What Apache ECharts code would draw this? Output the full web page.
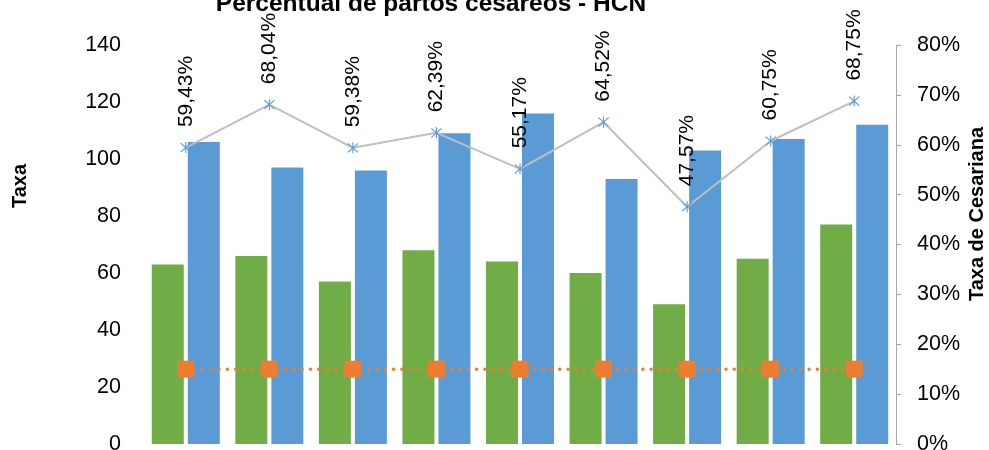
<!DOCTYPE html>
<html>
<head>
<meta charset="utf-8">
<script src="https://cdn.jsdelivr.net/npm/echarts@6/dist/echarts.min.js"></script>
<style>
html,body{margin:0;padding:0;background:#fff;}
#chart{width:989px;height:450px;}
</style>
</head>
<body>
<div id="chart"></div>
<script>
var categories = ['1','2','3','4','5','6','7','8','9'];
var partosCesareos = [63, 66, 57, 68, 64, 60, 49, 65, 77];
var totalPartos = [106, 97, 96, 109, 116, 93, 103, 107, 112];
var taxaCesariana = [59.43, 68.04, 59.38, 62.39, 55.17, 64.52, 47.57, 60.75, 68.75];
var meta = [15, 15, 15, 15, 15, 15, 15, 15, 15];
var leftTicks = [0, 20, 40, 60, 80, 100, 120, 140];
var rightTicks = [0, 10, 20, 30, 40, 50, 60, 70, 80];

var FONT = 'Liberation Sans';
var asterisk = 'path://M9.1,0 L10.9,0 L10.9,20 L9.1,20 Z M1.2,2.5 L2.5,1.2 L18.8,17.5 L17.5,18.8 Z M17.5,1.2 L18.8,2.5 L2.5,18.8 L1.2,17.5 Z';

var chart = echarts.init(document.getElementById('chart'), null, {renderer: 'canvas'});
chart.setOption({
  animation: false,
  backgroundColor: '#fff',
  title: {
    text: 'Percentual de partos cesáreos - HCN',
    left: 426, textAlign: 'center', top: -13,
    textStyle: {fontFamily: FONT, fontSize: 24.5, fontWeight: 'bold', color: '#000'}
  },
  grid: {left: 144, right: 93, top: 45, bottom: 6, containLabel: false, outerBoundsMode: 'none'},
  xAxis: {
    type: 'category', data: categories,
    axisLine: {show: false}, axisTick: {show: false}, axisLabel: {show: false}
  },
  yAxis: [
    {
      type: 'value', min: leftTicks[0], max: leftTicks[leftTicks.length - 1], interval: 20,
      axisLine: {show: false}, axisTick: {show: false}, splitLine: {show: false},
      axisLabel: {fontFamily: FONT, fontSize: 21.5, color: '#000', margin: 23}
    },
    {
      type: 'value', min: rightTicks[0], max: rightTicks[rightTicks.length - 1], interval: 10,
      position: 'right',
      axisLine: {show: true, lineStyle: {color: '#A6A6A6', width: 1}},
      axisTick: {show: true, length: 5, lineStyle: {color: '#A6A6A6'}},
      splitLine: {show: false},
      axisLabel: {fontFamily: FONT, fontSize: 21.5, color: '#000', margin: 21, formatter: '{value}%'}
    }
  ],
  graphic: [
    {type: 'text', x: 20, y: 186, rotation: Math.PI / 2,
     style: {text: 'Taxa', fontFamily: FONT, fontSize: 20, fontWeight: 'bold', fill: '#000', align: 'center', verticalAlign: 'middle'}},
    {type: 'text', x: 977, y: 214, rotation: Math.PI / 2,
     style: {text: 'Taxa de Cesariana', fontFamily: FONT, fontSize: 20, fontWeight: 'bold', fill: '#000', align: 'center', verticalAlign: 'middle'}}
  ],
  series: [
    {
      type: 'bar', data: partosCesareos, barWidth: 32, barGap: '12.5%',
      itemStyle: {color: '#70AD47'}
    },
    {
      type: 'bar', data: totalPartos, barWidth: 32,
      itemStyle: {color: '#5B9BD5'}
    },
    {
      type: 'line', yAxisIndex: 1, data: meta,
      symbol: 'rect', symbolSize: 17,
      itemStyle: {color: '#ED7D31'},
      lineStyle: {color: '#ED7D31', width: 3.5, type: [0.01, 8.3], cap: 'round'}
    },
    {
      type: 'line', yAxisIndex: 1, data: taxaCesariana,
      symbol: asterisk, symbolSize: 11,
      itemStyle: {color: '#5B9BD5'},
      lineStyle: {color: '#BFBFBF', width: 2},
      label: {
        show: true, position: 'top', rotate: 90, distance: 15,
        align: 'left', verticalAlign: 'middle',
        fontFamily: FONT, fontSize: 21, color: '#000',
        formatter: function (p) { return p.value.toFixed(2).replace('.', ',') + '%'; }
      }
    }
  ]
});
</script>
</body>
</html>
